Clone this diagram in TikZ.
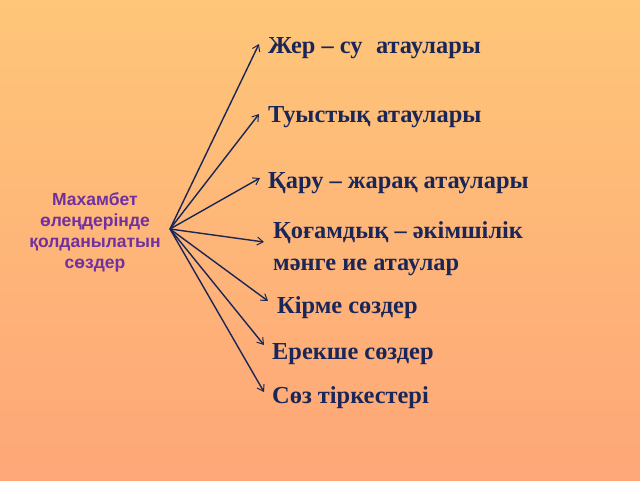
\documentclass[tikz,border=0pt]{standalone}
\usepackage{fontspec}
\setmainfont{Liberation Serif}
\newfontfamily\leftfont{Liberation Sans}
\usetikzlibrary{arrows.meta}
\definecolor{bgtop}{RGB}{254,198,120}
\definecolor{bgbot}{RGB}{254,166,120}
\definecolor{navy}{RGB}{26,38,88}
\definecolor{purp}{RGB}{112,48,160}
\tikzset{
  item/.style={anchor=base west, inner sep=0pt, text=navy, font=\fontsize{24.4}{32}\selectfont\bfseries, align=left},
  lefttext/.style={inner sep=0pt, text=purp, font=\leftfont\fontsize{17.5}{21}\selectfont\bfseries, align=center},
  link/.style={draw=navy, line width=1.4pt, -{Straight Barb[length=6pt,width=8pt,line width=1pt]}}
}
\begin{document}
\begin{tikzpicture}[x=1pt,y=-1pt]
\useasboundingbox (0,0) rectangle (640,480);
\shade[top color=bgtop, bottom color=bgbot] (0,0) rectangle (640,480);
\node[lefttext, anchor=base] (src) at (95,268) {Махамбет\\өлеңдерінде\\қолданылатын\\сөздер};
\coordinate (o) at (170,229);
\node[item] (t1) at (268,53) {Жер – су\hspace{0.3em} атаулары};
\node[item] (t2) at (268,122) {Туыстық атаулары};
\node[item] (t3) at (268,188) {Қару – жарақ атаулары};
\node[item] (t4) at (273,270) {Қоғамдық – әкімшілік\\мәнге ие атаулар};
\node[item] (t5) at (277,313) {Кірме сөздер};
\node[item] (t6) at (272,359) {Ерекше сөздер};
\node[item] (t7) at (272,403) {Сөз тіркестері};
\coordinate (e1) at (259,44);
\coordinate (e2) at (259,114);
\coordinate (e3) at (260,178);
\coordinate (e4) at (264,242);
\coordinate (e5) at (268,301);
\coordinate (e6) at (264,345);
\coordinate (e7) at (264,392);
\foreach \i in {1,...,7} \draw[link] (o) -- (e\i);
\end{tikzpicture}
\end{document}
